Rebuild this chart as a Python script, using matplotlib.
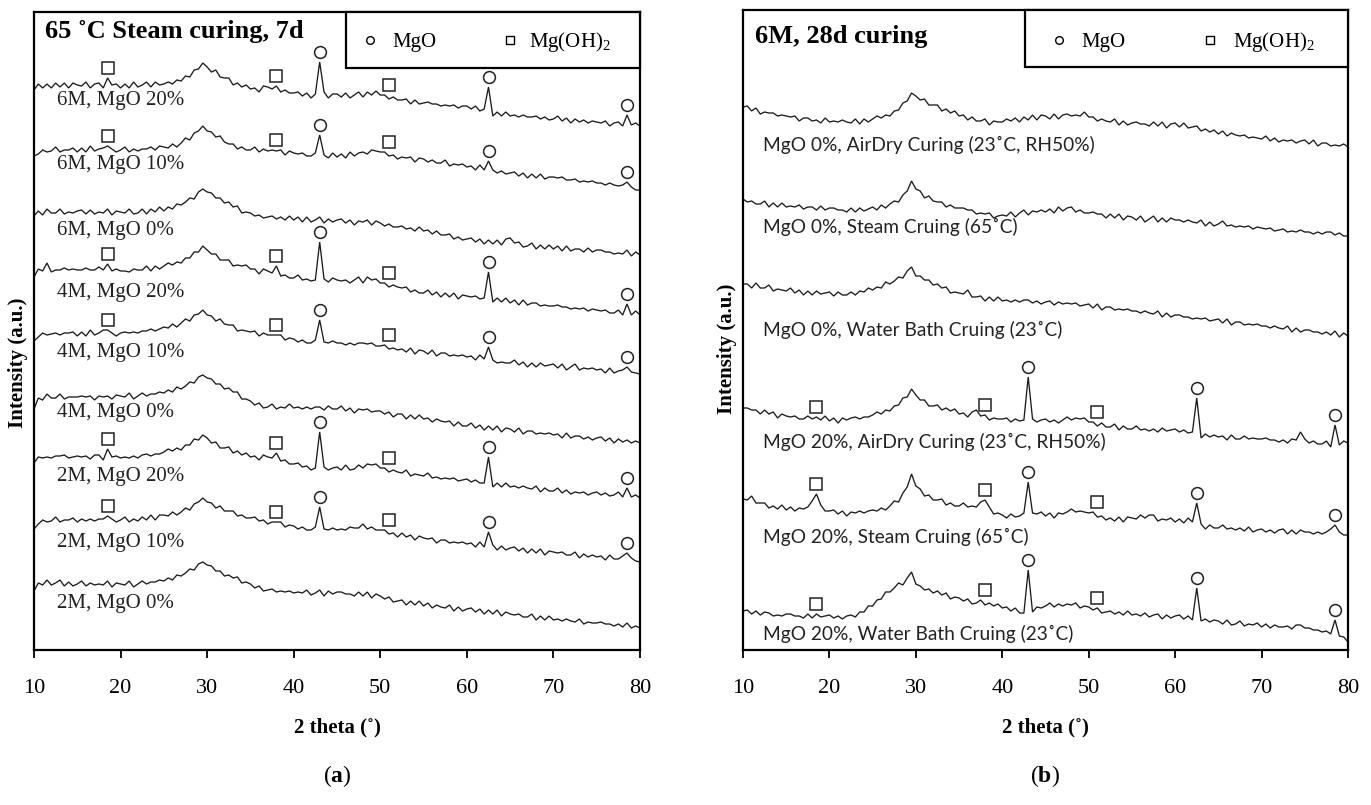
import numpy as np
import matplotlib
matplotlib.use("Agg")
import matplotlib.pyplot as plt
from matplotlib.patches import Rectangle

plt.rcParams['font.family'] = ['Liberation Serif', 'DejaVu Serif']
plt.rcParams['mathtext.fontset'] = 'custom'
plt.rcParams['mathtext.rm'] = 'Liberation Serif'
plt.rcParams['mathtext.bf'] = 'Liberation Serif:bold'

# 2-theta scan, 0.5 degree step from 10 to 80 degrees
two_theta = np.linspace(10.0, 80.0, 141)

# ---------------- (a) 65 C steam curing, 7 days ----------------
labels_a = ["6M, MgO 20%", "6M, MgO 10%", "6M, MgO 0%",
            "4M, MgO 20%", "4M, MgO 10%", "4M, MgO 0%",
            "2M, MgO 20%", "2M, MgO 10%", "2M, MgO 0%"]
offsets_a = [520, 450, 390, 330, 270, 200, 150, 80, 20]

a_6M_20 = [40, 46, 42, 46, 42, 47, 43, 47, 42, 47,
           45, 44, 48, 42, 46, 47, 42, 52, 45, 46,
           42, 46, 42, 48, 43, 45, 48, 43, 48, 45,
           46, 48, 46, 50, 49, 54, 53, 60, 61, 67,
           63, 58, 60, 53, 52, 52, 45, 47, 43, 45,
           41, 42, 38, 44, 43, 41, 44, 38, 40, 37,
           37, 38, 34, 37, 32, 36, 68, 38, 32, 36,
           36, 33, 37, 32, 35, 38, 33, 38, 35, 39,
           35, 35, 31, 33, 30, 30, 31, 26, 30, 26,
           27, 28, 26, 26, 24, 25, 24, 25, 22, 24,
           24, 21, 24, 19, 21, 43, 14, 18, 14, 18,
           14, 15, 13, 15, 13, 13, 14, 11, 13, 10,
           11, 14, 9, 12, 7, 11, 8, 10, 7, 9,
           8, 7, 9, 4, 7, 8, 4, 15, 5, 7,
           4]
a_6M_10 = [44, 46, 50, 48, 49, 53, 48, 50, 50, 52,
           48, 52, 48, 54, 49, 51, 52, 54, 51, 48,
           50, 53, 48, 51, 49, 51, 51, 53, 50, 54,
           53, 52, 56, 53, 57, 62, 60, 67, 69, 74,
           69, 68, 63, 64, 58, 56, 56, 51, 53, 50,
           50, 53, 48, 51, 49, 50, 49, 50, 45, 49,
           47, 46, 47, 44, 44, 47, 65, 45, 42, 47,
           43, 46, 42, 48, 44, 47, 48, 46, 50, 49,
           48, 48, 44, 45, 41, 43, 42, 43, 38, 42,
           41, 38, 40, 37, 37, 40, 34, 36, 35, 36,
           33, 34, 30, 35, 30, 39, 30, 27, 29, 26,
           27, 28, 24, 27, 22, 26, 22, 26, 21, 23,
           23, 22, 23, 20, 20, 21, 18, 19, 18, 19,
           17, 17, 15, 17, 15, 14, 15, 18, 13, 10,
           10]
a_6M_0 = [44, 49, 45, 51, 47, 47, 51, 46, 48, 47,
          49, 50, 46, 50, 46, 48, 47, 51, 45, 49,
          48, 47, 51, 46, 47, 51, 46, 51, 48, 53,
          49, 53, 51, 56, 55, 58, 62, 61, 68, 71,
          68, 67, 62, 62, 57, 58, 53, 54, 47, 48,
          47, 44, 45, 42, 43, 44, 41, 43, 40, 44,
          40, 43, 38, 43, 38, 40, 43, 37, 41, 38,
          40, 41, 37, 40, 35, 39, 38, 40, 35, 39,
          37, 34, 36, 33, 33, 34, 31, 32, 29, 33,
          29, 30, 26, 29, 25, 25, 26, 21, 23, 20,
          21, 22, 18, 21, 16, 20, 16, 20, 15, 21,
          22, 17, 18, 13, 14, 17, 11, 15, 11, 15,
          11, 14, 9, 14, 9, 11, 11, 8, 12, 8,
          10, 10, 8, 8, 6, 7, 6, 10, 4, 8,
          5]
a_4M_20 = [43, 51, 49, 57, 48, 50, 50, 52, 50, 51,
           50, 50, 52, 50, 50, 53, 50, 56, 49, 51,
           49, 49, 48, 51, 50, 50, 54, 49, 54, 51,
           54, 57, 55, 58, 57, 62, 62, 68, 68, 74,
           70, 66, 66, 60, 60, 60, 54, 55, 54, 55,
           51, 51, 46, 51, 49, 47, 54, 44, 45, 42,
           42, 45, 40, 41, 39, 40, 78, 41, 38, 42,
           40, 39, 40, 37, 40, 43, 37, 43, 40, 41,
           37, 37, 33, 35, 33, 32, 33, 28, 30, 27,
           27, 30, 25, 28, 23, 27, 23, 27, 21, 25,
           24, 23, 24, 21, 22, 48, 18, 22, 18, 22,
           17, 20, 15, 20, 15, 17, 17, 14, 15, 14,
           14, 15, 13, 13, 11, 12, 11, 12, 9, 11,
           10, 9, 10, 7, 7, 10, 5, 16, 5, 9,
           5]
a_4M_10 = [39, 43, 47, 45, 46, 47, 45, 47, 47, 48,
           44, 48, 44, 50, 45, 47, 50, 50, 47, 44,
           47, 48, 47, 48, 47, 49, 49, 51, 49, 51,
           53, 52, 56, 53, 57, 61, 59, 65, 66, 70,
           65, 64, 59, 61, 56, 55, 55, 49, 50, 49,
           48, 49, 44, 47, 45, 45, 45, 45, 40, 42,
           41, 38, 40, 37, 37, 40, 60, 38, 37, 39,
           37, 37, 35, 37, 35, 37, 37, 36, 37, 34,
           34, 35, 31, 32, 30, 31, 28, 32, 26, 30,
           29, 26, 30, 24, 27, 27, 24, 25, 24, 25,
           23, 24, 20, 25, 21, 33, 20, 17, 18, 17,
           17, 20, 15, 18, 13, 17, 13, 17, 14, 15,
           16, 12, 16, 10, 13, 16, 10, 12, 11, 12,
           10, 11, 7, 12, 7, 9, 10, 13, 8, 7,
           6]
a_4M_0 = [41, 52, 50, 56, 52, 52, 56, 51, 53, 53,
          53, 54, 53, 54, 50, 54, 53, 54, 51, 55,
          54, 53, 57, 51, 54, 57, 54, 56, 56, 58,
          57, 60, 58, 63, 61, 64, 68, 67, 73, 75,
          72, 71, 66, 66, 61, 62, 58, 58, 51, 51,
          49, 45, 47, 42, 43, 46, 41, 43, 42, 46,
          42, 43, 41, 43, 41, 43, 43, 40, 44, 41,
          41, 44, 39, 42, 37, 41, 40, 41, 38, 39,
          39, 36, 38, 33, 36, 36, 31, 35, 31, 35,
          31, 32, 28, 31, 29, 28, 29, 24, 28, 24,
          24, 27, 22, 25, 20, 24, 20, 24, 18, 22,
          21, 18, 22, 16, 19, 19, 16, 17, 16, 17,
          15, 16, 12, 17, 12, 14, 14, 11, 13, 10,
          12, 13, 9, 12, 7, 11, 8, 10, 7, 9,
          7]
a_2M_20 = [37, 43, 42, 43, 42, 44, 44, 45, 42, 43,
           44, 43, 44, 41, 45, 45, 40, 51, 43, 44,
           42, 43, 42, 44, 42, 45, 46, 44, 46, 46,
           48, 51, 49, 52, 50, 55, 55, 61, 60, 65,
           62, 57, 58, 52, 52, 53, 47, 49, 45, 47,
           43, 44, 40, 45, 43, 42, 47, 39, 40, 36,
           36, 37, 33, 34, 30, 32, 68, 33, 30, 32,
           33, 30, 35, 30, 31, 35, 32, 36, 35, 36,
           32, 32, 28, 30, 28, 27, 30, 24, 26, 25,
           24, 27, 22, 23, 21, 22, 21, 22, 19, 20,
           21, 18, 20, 17, 17, 43, 13, 17, 13, 17,
           13, 14, 12, 14, 12, 11, 14, 8, 12, 9,
           9, 12, 7, 10, 6, 8, 7, 8, 5, 7,
           8, 5, 7, 4, 5, 8, 3, 12, 3, 5,
           2]
a_2M_10 = [41, 46, 50, 48, 49, 53, 48, 50, 50, 52,
           48, 51, 49, 51, 49, 51, 51, 54, 51, 48,
           50, 53, 48, 51, 49, 53, 50, 55, 50, 55,
           55, 54, 58, 55, 58, 62, 60, 66, 68, 72,
           68, 67, 62, 64, 59, 59, 59, 54, 55, 52,
           52, 53, 49, 50, 46, 48, 48, 48, 43, 45,
           44, 41, 43, 40, 40, 43, 63, 41, 40, 42,
           40, 41, 40, 43, 42, 42, 46, 41, 43, 40,
           40, 40, 36, 37, 33, 37, 33, 35, 30, 34,
           32, 31, 32, 27, 30, 30, 27, 28, 27, 28,
           26, 27, 23, 28, 23, 38, 25, 20, 24, 20,
           22, 23, 19, 22, 17, 21, 17, 21, 15, 19,
           18, 17, 18, 15, 15, 18, 12, 16, 13, 15,
           13, 14, 10, 15, 11, 11, 14, 17, 12, 9,
           8]
a_2M_0 = [39, 47, 45, 50, 45, 47, 50, 44, 48, 44,
          46, 49, 44, 47, 45, 46, 45, 49, 43, 47,
          46, 45, 49, 43, 46, 49, 46, 48, 48, 50,
          49, 52, 50, 55, 54, 57, 61, 60, 66, 68,
          65, 64, 59, 59, 54, 55, 52, 53, 47, 48,
          46, 42, 44, 39, 40, 41, 38, 39, 38, 39,
          37, 38, 37, 40, 35, 37, 40, 34, 39, 36,
          38, 38, 36, 36, 34, 38, 34, 38, 32, 36,
          34, 31, 33, 28, 29, 30, 25, 29, 25, 29,
          24, 27, 22, 25, 23, 22, 25, 19, 23, 19,
          21, 22, 18, 21, 16, 20, 16, 20, 14, 18,
          16, 15, 16, 13, 13, 16, 10, 14, 10, 14,
          10, 11, 9, 11, 9, 8, 11, 6, 8, 7,
          7, 8, 6, 6, 4, 6, 3, 7, 2, 4,
          2]
series_a = [a_6M_20, a_6M_10, a_6M_0, a_4M_20, a_4M_10, a_4M_0,
            a_2M_20, a_2M_10, a_2M_0]
label_y_a = [549, 485, 420, 357, 298, 237, 174, 107, 47]

# ---------------- (b) 6M, 28 days, curing regimes ----------------
labels_b = ["MgO 0%, AirDry Curing (23˚C, RH50%)",
            "MgO 0%, Steam Cruing (65˚C)",
            "MgO 0%, Water Bath Cruing (23˚C)",
            "MgO 20%, AirDry Curing (23˚C, RH50%)",
            "MgO 20%, Steam Cruing (65˚C)",
            "MgO 20%, Water Bath Cruing (23˚C)"]
offsets_b = [500, 410, 310, 200, 110, 5]

b_0_air = [43, 44, 39, 42, 36, 38, 37, 37, 34, 35,
           34, 33, 34, 29, 32, 32, 29, 30, 27, 32,
           28, 29, 28, 30, 28, 27, 31, 26, 31, 28,
           31, 34, 32, 35, 34, 39, 40, 47, 49, 57,
           54, 50, 51, 45, 45, 45, 39, 41, 37, 39,
           34, 35, 30, 33, 29, 29, 31, 25, 29, 28,
           28, 31, 29, 32, 28, 33, 30, 35, 30, 35,
           34, 31, 36, 31, 35, 36, 34, 35, 34, 38,
           33, 33, 29, 31, 29, 28, 31, 25, 29, 25,
           27, 28, 26, 26, 24, 28, 24, 28, 22, 26,
           27, 23, 27, 22, 23, 24, 19, 21, 18, 20,
           16, 19, 14, 17, 15, 14, 15, 12, 13, 12,
           11, 14, 9, 12, 8, 10, 9, 10, 7, 9,
           10, 6, 10, 4, 7, 7, 4, 5, 4, 6,
           3]
b_0_steam = [41, 38, 39, 36, 36, 39, 33, 37, 33, 37,
             33, 34, 33, 35, 31, 33, 33, 30, 34, 30,
             32, 32, 30, 30, 28, 32, 28, 32, 29, 31,
             33, 30, 35, 32, 36, 39, 38, 45, 49, 59,
             51, 49, 42, 44, 39, 38, 38, 33, 35, 32,
             32, 32, 30, 30, 26, 27, 26, 27, 22, 24,
             25, 24, 28, 23, 27, 30, 25, 29, 28, 30,
             28, 31, 27, 33, 29, 32, 33, 28, 30, 27,
             27, 28, 26, 26, 22, 26, 22, 26, 20, 24,
             23, 20, 24, 18, 21, 24, 18, 22, 18, 22,
             20, 20, 18, 20, 18, 17, 20, 14, 18, 14,
             16, 19, 14, 15, 13, 14, 13, 14, 11, 13,
             12, 11, 12, 9, 10, 11, 8, 9, 8, 10,
             8, 8, 6, 8, 6, 8, 8, 5, 7, 4,
             4]
b_0_water = [56, 56, 52, 57, 52, 52, 55, 49, 51, 50,
             49, 52, 47, 50, 45, 49, 45, 49, 46, 47,
             48, 44, 48, 45, 45, 48, 45, 49, 48, 52,
             50, 53, 52, 58, 56, 59, 63, 62, 69, 73,
             64, 64, 60, 60, 55, 56, 52, 53, 47, 48,
             47, 46, 50, 43, 43, 44, 39, 43, 39, 43,
             39, 40, 38, 40, 38, 40, 40, 37, 39, 36,
             38, 39, 35, 38, 36, 37, 36, 37, 34, 35,
             36, 32, 36, 30, 33, 33, 30, 31, 30, 31,
             29, 29, 27, 29, 27, 26, 29, 23, 27, 23,
             25, 25, 23, 23, 21, 22, 21, 22, 19, 20,
             21, 17, 21, 15, 18, 18, 15, 16, 15, 16,
             14, 14, 12, 14, 12, 11, 14, 8, 12, 8,
             10, 10, 8, 8, 6, 8, 5, 9, 3, 7,
             4]
b_20_air = [42, 42, 40, 40, 36, 40, 36, 38, 32, 36,
            34, 33, 34, 31, 31, 34, 31, 33, 30, 34,
            29, 32, 27, 32, 30, 32, 33, 31, 33, 33,
            35, 38, 36, 40, 39, 44, 45, 52, 53, 61,
            55, 50, 50, 44, 44, 45, 40, 42, 39, 41,
            36, 37, 33, 38, 40, 34, 35, 30, 32, 31,
            31, 32, 28, 31, 29, 30, 73, 31, 28, 30,
            31, 28, 30, 27, 30, 33, 30, 32, 31, 32,
            28, 28, 24, 27, 23, 23, 26, 20, 24, 21,
            21, 24, 20, 21, 19, 21, 18, 22, 19, 20,
            21, 18, 20, 17, 18, 52, 12, 16, 13, 15,
            13, 14, 10, 15, 11, 11, 14, 11, 12, 11,
            11, 12, 10, 10, 8, 10, 7, 11, 10, 18,
            11, 7, 9, 6, 6, 9, 3, 25, 5, 9,
            7]
b_20_steam = [41, 40, 44, 37, 37, 37, 32, 34, 31, 35,
              30, 33, 29, 32, 31, 33, 39, 46, 35, 29,
              29, 30, 26, 29, 24, 28, 27, 29, 27, 29,
              30, 29, 32, 30, 34, 39, 38, 47, 53, 66,
              54, 51, 44, 45, 40, 40, 41, 35, 37, 34,
              34, 37, 33, 34, 33, 38, 40, 33, 26, 27,
              25, 22, 26, 23, 24, 27, 58, 27, 26, 28,
              24, 27, 22, 27, 26, 28, 31, 28, 29, 28,
              27, 28, 23, 24, 20, 22, 19, 23, 18, 23,
              22, 21, 25, 22, 25, 25, 19, 21, 20, 22,
              18, 21, 17, 22, 18, 37, 16, 11, 15, 12,
              12, 15, 11, 12, 10, 12, 9, 13, 8, 10,
              11, 8, 10, 7, 10, 11, 6, 10, 6, 10,
              8, 8, 6, 8, 6, 8, 11, 15, 8, 5,
              5]
b_20_water = [34, 35, 31, 34, 30, 33, 32, 29, 30, 29,
              31, 31, 29, 29, 27, 31, 27, 31, 28, 29,
              30, 27, 29, 26, 29, 30, 28, 33, 33, 39,
              39, 45, 46, 53, 53, 57, 62, 60, 67, 73,
              61, 59, 55, 56, 52, 54, 50, 52, 46, 48,
              47, 44, 46, 41, 42, 45, 40, 42, 39, 41,
              37, 38, 34, 37, 32, 32, 75, 33, 38, 37,
              39, 42, 38, 41, 39, 41, 40, 42, 37, 39,
              38, 35, 37, 32, 33, 34, 31, 33, 30, 34,
              30, 31, 29, 32, 28, 30, 31, 26, 30, 27,
              29, 30, 26, 29, 25, 57, 24, 26, 23, 25,
              24, 21, 25, 20, 21, 24, 19, 21, 20, 22,
              18, 21, 17, 20, 18, 18, 19, 16, 20, 20,
              17, 17, 15, 15, 13, 14, 11, 25, 9, 8,
              3]
series_b = [b_0_air, b_0_steam, b_0_water, b_20_air, b_20_steam, b_20_water]
label_y_b = [505, 423, 320, 208, 113, 16]

# reference reflections
mgo_peaks = [43.0, 62.5, 78.5]
brucite_peaks = [18.5, 38.0, 51.0]

LINE = '#1c1c1c'
MARK_GAP = 10


def has_mgo(label):
    return ('MgO 10%' in label) or ('MgO 20%' in label)


def draw_panel(ax, labels, offsets, series, label_y, label_x, label_font, ytop,
               title, legend_geom):
    ax.set_xlim(10, 80)
    ax.set_ylim(0, ytop)
    for lab, off, vals, ly in zip(labels, offsets, series, label_y):
        y = off + np.asarray(vals, dtype=float)
        ax.plot(two_theta, y, color=LINE, lw=0.95, solid_joinstyle='miter', zorder=2)
        ax.text(label_x, ly, lab, va='center', ha='left', color='#222222', **label_font)
        if has_mgo(lab):
            for pk, mk in [(p, 'o') for p in mgo_peaks] + [(p, 's') for p in brucite_peaks]:
                win = np.abs(two_theta - pk) <= 0.75
                ax.plot([pk], [y[win].max() + MARK_GAP], marker=mk, ms=8.5,
                        mfc='white', mec='#222222', mew=1.1, ls='none', zorder=3)
    for s in ax.spines.values():
        s.set_linewidth(1.6)
        s.set_color('black')
    ax.set_yticks([])
    ax.set_xticks(range(10, 81, 10))
    ax.tick_params(axis='x', direction='out', length=6, width=1.3, labelsize=16, pad=15)
    ax.set_ylabel('Intensity (a.u.)', fontsize=15, fontweight='bold')

    ax.text(title[1], title[2], title[0], transform=ax.transAxes, fontsize=19,
            fontweight='bold', va='baseline', ha='left')

    x0, y0, cx, tx1, sx, tx2, ly = legend_geom
    ax.add_patch(Rectangle((x0, y0), 1 - x0, 1 - y0, transform=ax.transAxes,
                           facecolor='white', edgecolor='black', lw=1.6,
                           zorder=4, clip_on=False))
    ax.plot([cx], [ly + 0.011], marker='o', ms=5.5, mfc='white', mec='black', mew=1,
            transform=ax.transAxes, zorder=5, clip_on=False)
    ax.plot([sx], [ly + 0.011], marker='s', ms=5.5, mfc='white', mec='black', mew=1,
            transform=ax.transAxes, zorder=5, clip_on=False)
    ax.text(tx1, ly, 'MgO', transform=ax.transAxes, fontsize=15, va='baseline',
            ha='left', zorder=5)
    ax.text(tx2, ly, r'Mg(OH)$_2$', transform=ax.transAxes, fontsize=15,
            va='baseline', ha='left', zorder=5)


fig = plt.figure(figsize=(13.71, 8.05), dpi=100)
ax_a = fig.add_axes([34 / 1371, 155 / 805, 606 / 1371, 638 / 805])
ax_b = fig.add_axes([743 / 1371, 155 / 805, 605 / 1371, 640 / 805])

draw_panel(ax_a, labels_a, offsets_a, series_a, label_y_a, 12.7,
           dict(fontsize=15), 638,
           ('65 ˚C Steam curing, 7d', 0.018, 0.959),
           (0.515, 0.912, 0.554, 0.591, 0.785, 0.817, 0.945))
draw_panel(ax_b, labels_b, offsets_b, series_b, label_y_b, 12.3,
           dict(fontsize=13.8, family=['Lato', 'DejaVu Sans']), 640,
           ('6M, 28d curing', 0.02, 0.948),
           (0.466, 0.911, 0.522, 0.560, 0.772, 0.810, 0.942))

for ax, xc, tag, yc in [(ax_a, 337, 'a', 0.45), (ax_b, 1045, 'b', 0.47)]:
    fig.text(xc / 1371, (805 - 727) / 805, '2 theta (˚)', fontsize=15,
             fontweight='bold', ha='center', va='center')
    fig.text(xc / 1371, (805 - 776) / 805, r'($\mathbf{%s}$)' % tag, fontsize=17,
             ha='center', va='center')
    ax.yaxis.set_label_coords(-0.01, yc)

fig.savefig('out.png', dpi=100, facecolor='white')
